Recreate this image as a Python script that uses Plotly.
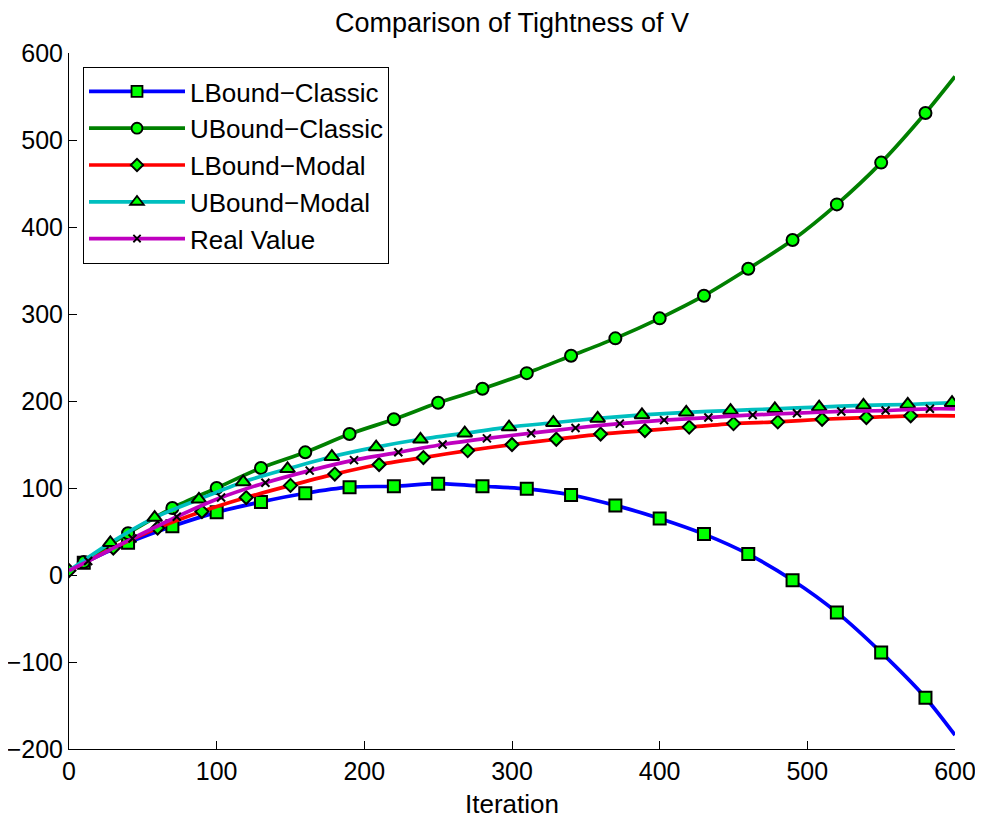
import plotly.graph_objects as go

# ---------------- data ----------------
sq_x = [10, 40, 70, 100, 130, 160, 190, 220, 250, 280, 310, 340, 370, 400, 430, 460, 490, 520, 550, 580]
lbound_classic = [14, 37, 56, 72, 84, 94, 101, 102, 105, 102, 99, 92, 80, 65, 47, 24, -6, -43, -89, -141]
ubound_classic = [15, 48, 77, 100, 123, 141, 162, 179, 198, 214, 232, 252, 272, 295, 321, 352, 385, 426, 474, 531]

dia_x = [0, 30, 60, 90, 120, 150, 180, 210, 240, 270, 300, 330, 360, 390, 420, 450, 480, 510, 540, 570]
lbound_modal = [5, 31, 54, 73, 89, 103, 116, 127, 135, 143, 150, 156, 162, 166, 170, 174, 176, 179, 181, 183]

tri_x = [28, 58, 88, 118, 148, 178, 208, 238, 268, 298, 328, 358, 388, 418, 448, 478, 508, 538, 568, 598]
ubound_modal = [37, 66, 87, 107, 122, 136, 147, 156, 163, 170, 175, 180, 184, 187, 189, 191, 193, 195, 196, 198]

cross_x = [13, 43, 73, 103, 133, 163, 193, 223, 253, 283, 313, 343, 373, 403, 433, 463, 493, 523, 553, 583]
real_value = [16, 42, 67, 89, 106, 120, 132, 141, 150, 157, 163, 169, 174, 178, 181, 184, 186, 188, 189, 191]

# line start (iteration 0) and end (iteration 600) values
start_x, end_x = 0, 600
start_vals = {"LBound\u2212Classic": 5, "UBound\u2212Classic": 5, "LBound\u2212Modal": 5,
              "UBound\u2212Modal": 5, "Real Value": 5}
end_vals = {"LBound\u2212Classic": -184, "UBound\u2212Classic": 573, "LBound\u2212Modal": 183,
            "UBound\u2212Modal": 198, "Real Value": 191}

x_ticks = [0, 100, 200, 300, 400, 500, 600]
y_ticks = [-200, -100, 0, 100, 200, 300, 400, 500, 600]

series = [
    ("LBound\u2212Classic", sq_x, lbound_classic, "rgb(0,0,255)", "square", 12, 2.0),
    ("UBound\u2212Classic", sq_x, ubound_classic, "rgb(0,128,0)", "circle", 12, 2.0),
    ("LBound\u2212Modal", dia_x, lbound_modal, "rgb(255,0,0)", "diamond", 10, 2.0),
    ("UBound\u2212Modal", tri_x, ubound_modal, "rgb(0,191,191)", "triangle-up", 13, 2.0),
    ("Real Value", cross_x, real_value, "rgb(191,0,191)", "x-thin", 8, 2.0),
]

FONT = "Liberation Sans, Arial, Helvetica, sans-serif"

# the page body has an 8px margin, so the figure is drawn 8px in from the top-left
W, H = 975, 811
L, T, R, B = 61, 45, 28, 70

fig = go.Figure()
for name, mx, my, color, symbol, msize, mlw in series:
    xs, ys, sizes, lws = [], [], [], []
    if mx[0] > start_x:
        xs.append(start_x); ys.append(start_vals[name]); sizes.append(0); lws.append(0)
    xs += mx; ys += my; sizes += [msize] * len(mx); lws += [mlw] * len(mx)
    if mx[-1] < end_x:
        xs.append(end_x); ys.append(end_vals[name]); sizes.append(0); lws.append(0)
    if symbol == "x-thin":
        marker = dict(symbol=symbol, size=sizes, color="black", opacity=1,
                      line=dict(color="black", width=lws))
    else:
        marker = dict(symbol=symbol, size=sizes, color="rgb(0,255,0)", opacity=1,
                      line=dict(color="black", width=lws))
    fig.add_trace(go.Scatter(
        x=xs, y=ys, name=name, mode="lines+markers",
        line=dict(color=color, width=3.7, shape="spline", smoothing=0.8),
        marker=marker,
    ))

pw, ph = W - L - R, H - T - B
fig.update_layout(
    width=W, height=H,
    paper_bgcolor="white", plot_bgcolor="white",
    margin=dict(l=L, r=R, t=T, b=B, autoexpand=False),
    font=dict(family=FONT, size=25, color="black"),
    title=dict(text="Comparison of Tightness of V", x=(L + pw / 2) / W, xanchor="center",
               yref="container", y=1 - 15 / H, yanchor="middle",
               font=dict(family=FONT, size=27, color="black")),
    showlegend=True,
    legend=dict(x=14 / pw, y=1 - 14 / ph, xanchor="left", yanchor="top",
                bgcolor="white", bordercolor="black", borderwidth=1,
                font=dict(family=FONT, size=26, color="black"),
                itemwidth=96, tracegroupgap=0),
)
fig.update_xaxes(range=[0, 600], tickvals=x_ticks, ticks="inside", ticklen=8,
                 tickcolor="black", showline=True, linecolor="black", linewidth=1,
                 mirror=False, showgrid=False, zeroline=False, automargin=False,
                 title=dict(text="Iteration", standoff=11, font=dict(size=26)),
                 tickfont=dict(size=25))
fig.update_yaxes(range=[-200, 600], tickvals=y_ticks, ticks="inside", ticklen=8,
                 tickcolor="black", showline=True, linecolor="black", linewidth=1,
                 mirror=False, showgrid=False, zeroline=False, automargin=False,
                 tickfont=dict(size=25))

fig.write_html("out.html")
